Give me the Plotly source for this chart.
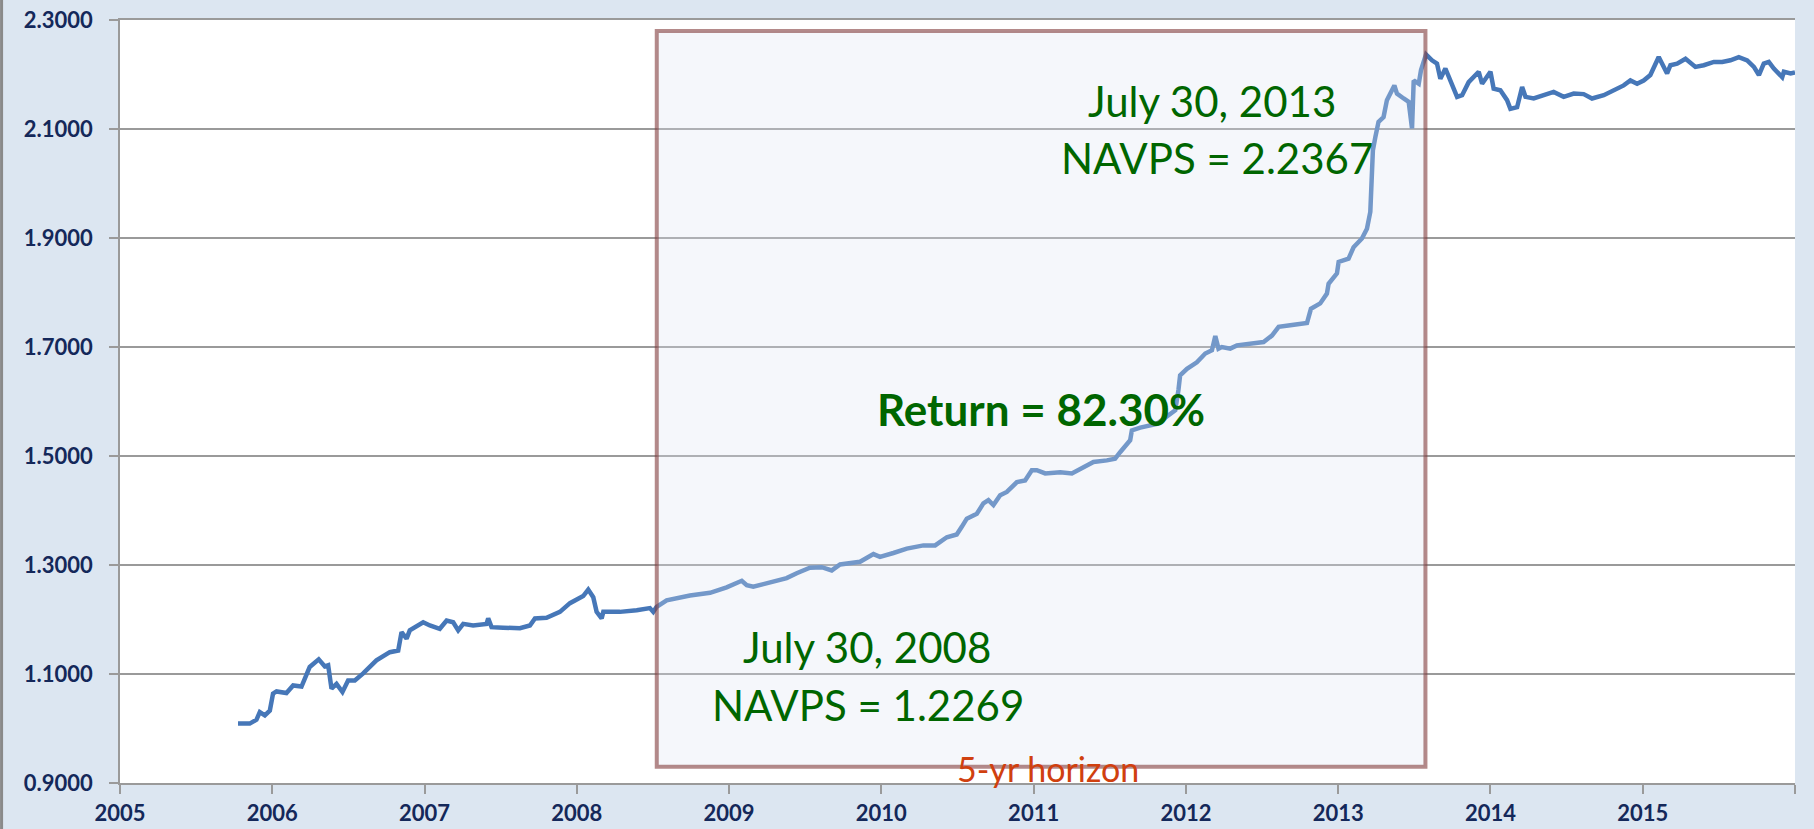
import plotly.graph_objects as go

# ---- data (decimal years, NAVPS) ----
years = [
    2005.775, 2005.852, 2005.896, 2005.918, 2005.951, 2005.984, 2006.005, 2006.028, 2006.093, 2006.137,
    2006.192, 2006.246, 2006.305, 2006.345, 2006.367, 2006.389, 2006.422, 2006.461, 2006.498, 2006.542,
    2006.597, 2006.684, 2006.772, 2006.827, 2006.849, 2006.882, 2006.903, 2006.991, 2007.035, 2007.100,
    2007.145, 2007.188, 2007.221, 2007.254, 2007.319, 2007.407, 2007.418, 2007.440, 2007.516, 2007.626,
    2007.692, 2007.725, 2007.801, 2007.889, 2007.955, 2008.009, 2008.042, 2008.075, 2008.108, 2008.130,
    2008.163, 2008.174, 2008.283, 2008.393, 2008.480, 2008.502, 2008.524, 2008.590, 2008.743, 2008.875,
    2008.984, 2009.083, 2009.116, 2009.159, 2009.290, 2009.378, 2009.444, 2009.531, 2009.608, 2009.674,
    2009.729, 2009.860, 2009.948, 2009.991, 2010.079, 2010.167, 2010.276, 2010.353, 2010.430, 2010.495,
    2010.528, 2010.561, 2010.627, 2010.670, 2010.703, 2010.736, 2010.780, 2010.824, 2010.890, 2010.944,
    2010.988, 2011.021, 2011.076, 2011.175, 2011.251, 2011.327, 2011.393, 2011.481, 2011.535, 2011.568,
    2011.634, 2011.645, 2011.700, 2011.809, 2011.875, 2011.930, 2011.951, 2011.962, 2012.007, 2012.072,
    2012.127, 2012.171, 2012.193, 2012.214, 2012.236, 2012.291, 2012.335, 2012.466, 2012.510, 2012.565,
    2012.609, 2012.685, 2012.795, 2012.821, 2012.882, 2012.926, 2012.937, 2012.992, 2013.003, 2013.068,
    2013.101, 2013.156, 2013.189, 2013.211, 2013.222, 2013.228, 2013.244, 2013.265, 2013.298, 2013.320,
    2013.369, 2013.386, 2013.430, 2013.463, 2013.485, 2013.496, 2013.529, 2013.544, 2013.577, 2013.616,
    2013.649, 2013.671, 2013.704, 2013.726, 2013.781, 2013.814, 2013.857, 2013.923, 2013.945, 2014.000,
    2014.021, 2014.065, 2014.109, 2014.131, 2014.175, 2014.208, 2014.230, 2014.284, 2014.394, 2014.415,
    2014.481, 2014.547, 2014.612, 2014.667, 2014.744, 2014.809, 2014.875, 2014.919, 2014.963, 2015.006,
    2015.050, 2015.105, 2015.138, 2015.160, 2015.182, 2015.226, 2015.281, 2015.346, 2015.401, 2015.467,
    2015.522, 2015.576, 2015.631, 2015.686, 2015.730, 2015.763, 2015.795, 2015.828, 2015.861, 2015.916,
    2015.927, 2015.971, 2016.000,
]
navps = [
    1.009, 1.009, 1.016, 1.030, 1.024, 1.033, 1.064, 1.068, 1.065, 1.079,
    1.077, 1.113, 1.127, 1.114, 1.116, 1.073, 1.082, 1.067, 1.088, 1.088,
    1.101, 1.125, 1.140, 1.143, 1.177, 1.165, 1.180, 1.195, 1.189, 1.183,
    1.198, 1.195, 1.180, 1.192, 1.189, 1.192, 1.202, 1.186, 1.185, 1.184,
    1.189, 1.202, 1.203, 1.214, 1.230, 1.238, 1.243, 1.255, 1.241, 1.214,
    1.202, 1.214, 1.214, 1.217, 1.221, 1.214, 1.223, 1.235, 1.244, 1.249,
    1.259, 1.271, 1.263, 1.260, 1.270, 1.276, 1.285, 1.295, 1.296, 1.290,
    1.301, 1.306, 1.320, 1.315, 1.322, 1.330, 1.336, 1.336, 1.351, 1.356,
    1.370, 1.385, 1.394, 1.413, 1.419, 1.410, 1.428, 1.434, 1.452, 1.455,
    1.474, 1.474, 1.468, 1.470, 1.468, 1.479, 1.489, 1.492, 1.495, 1.507,
    1.529, 1.547, 1.552, 1.559, 1.572, 1.584, 1.621, 1.648, 1.660, 1.672,
    1.688, 1.694, 1.720, 1.697, 1.700, 1.697, 1.703, 1.706, 1.709, 1.721,
    1.737, 1.740, 1.744, 1.770, 1.780, 1.798, 1.816, 1.835, 1.856, 1.862,
    1.883, 1.899, 1.917, 1.948, 2.006, 2.061, 2.085, 2.113, 2.122, 2.153,
    2.180, 2.165, 2.156, 2.150, 2.101, 2.189, 2.183, 2.208, 2.2367, 2.226,
    2.220, 2.192, 2.211, 2.195, 2.159, 2.162, 2.186, 2.205, 2.183, 2.205,
    2.174, 2.171, 2.153, 2.137, 2.140, 2.177, 2.159, 2.156, 2.165, 2.168,
    2.159, 2.165, 2.164, 2.156, 2.162, 2.171, 2.180, 2.189, 2.183, 2.189,
    2.199, 2.232, 2.214, 2.202, 2.217, 2.220, 2.229, 2.214, 2.217, 2.223,
    2.223, 2.226, 2.232, 2.226, 2.214, 2.199, 2.220, 2.223, 2.211, 2.195,
    2.205, 2.202, 2.204,
]

x_tick_vals = list(range(2005, 2017))
x_tick_text = [str(v) for v in range(2005, 2016)] + [""]
y_tick_vals = [0.9, 1.1, 1.3, 1.5, 1.7, 1.9, 2.1, 2.3]

box_start, box_end = 2008.525, 2013.573
box_low, box_high = 0.93, 2.28

start_label = ["July 30, 2008", "NAVPS = 1.2269"]
end_label = ["July 30, 2013", "NAVPS = 2.2367"]
return_label = "Return = 82.30%"
horizon_label = "5-yr horizon"

GREEN = "#006600"
AXIS_GRAY = "#9a9a9a"
TICK_FONT = dict(family="Lato", size=22, color="#14285a", weight="bold")

fig = go.Figure()
fig.add_trace(go.Scatter(
    x=years, y=navps, mode="lines",
    line=dict(color="#4677b8", width=4.5),
    hoverinfo="skip", showlegend=False,
))

fig.add_shape(
    type="rect", xref="x", yref="y",
    x0=box_start, x1=box_end, y0=box_low, y1=box_high,
    fillcolor="rgba(222,228,242,0.3)",
    line=dict(color="rgba(130,60,60,0.6)", width=4),
    layer="above",
)
# slide's left border
fig.add_shape(
    type="line", xref="paper", yref="paper",
    x0=-0.0707, x1=-0.0707, y0=-0.07, y1=1.04,
    line=dict(color="#8a8a8a", width=3),
)

def note(text, x, y, size, bold=False, color=GREEN):
    fig.add_annotation(
        x=x, y=y, xref="x", yref="y", text=text, showarrow=False,
        xanchor="center", yanchor="middle",
        font=dict(family="Lato", size=size, color=color,
                  weight="bold" if bold else "normal"),
    )

note(end_label[0], 2012.173, 2.151, 42)
note(end_label[1], 2012.206, 2.046, 42)
note(return_label, 2011.049, 1.586, 44, bold=True)
note(start_label[0], 2009.906, 1.150, 42)
note(start_label[1], 2009.912, 1.0435, 42)
note(horizon_label, 2011.096, 0.926, 34, color="#d0400f")

fig.update_layout(
    width=1814, height=829,
    margin=dict(l=120, r=19, t=20, b=46, pad=0, autoexpand=False),
    paper_bgcolor="#dce6f1",
    plot_bgcolor="white",
    showlegend=False,
    xaxis=dict(
        range=[2005, 2016], tickmode="array",
        tickvals=x_tick_vals, ticktext=x_tick_text,
        ticks="outside", ticklen=9, tickwidth=1.5, tickcolor=AXIS_GRAY,
        showgrid=False, showline=True, linecolor=AXIS_GRAY, linewidth=1.5,
        mirror=True, zeroline=False, tickfont=TICK_FONT,
        ticklabelstandoff=1, fixedrange=True, automargin=False,
    ),
    yaxis=dict(
        range=[0.9, 2.3], tickmode="array", tickvals=y_tick_vals,
        tickformat=".4f",
        ticks="outside", ticklen=9, tickwidth=1.5, tickcolor=AXIS_GRAY,
        showgrid=True, gridcolor=AXIS_GRAY, gridwidth=1.5,
        showline=True, linecolor=AXIS_GRAY, linewidth=1.5,
        zeroline=False, tickfont=TICK_FONT,
        ticklabelstandoff=12, fixedrange=True, automargin=False,
    ),
)

fig.write_html("out.html", config={"displayModeBar": False},
               post_script="document.body.style.margin='0';")
